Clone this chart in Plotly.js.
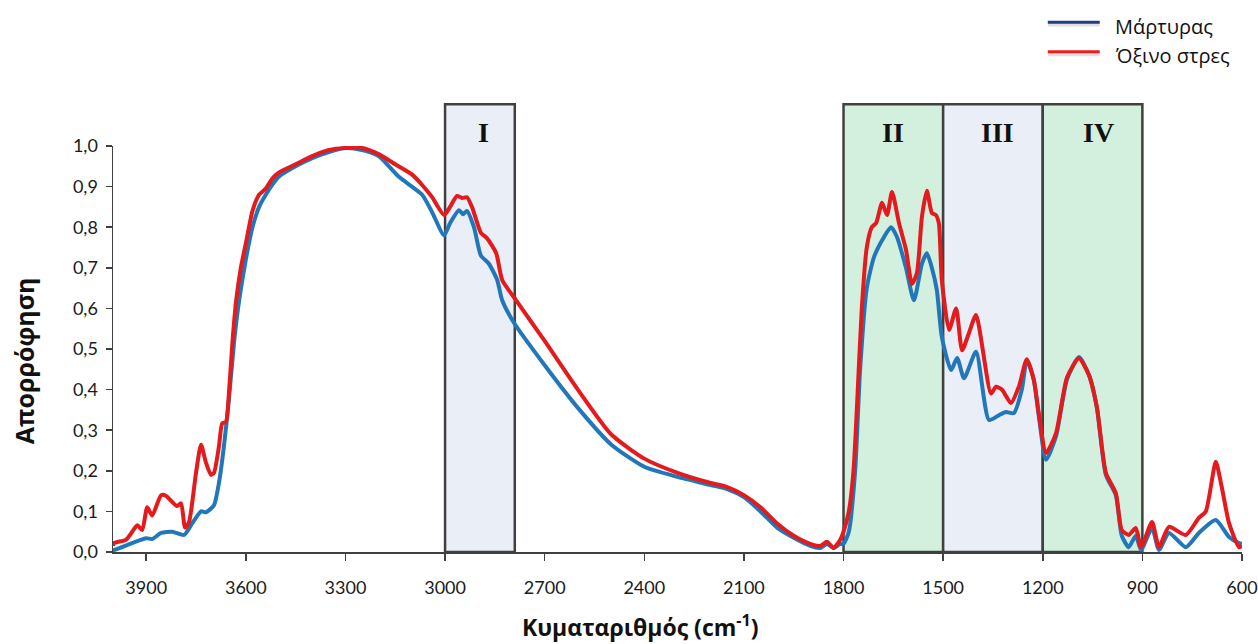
<!DOCTYPE html>
<html>
<head>
<meta charset="utf-8">
<script src="https://cdn.plot.ly/plotly-3.0.1.min.js"></script>
<style>html,body{margin:0;padding:0;background:#fff;}#chart{width:1258px;height:644px;}</style>
</head>
<body>
<div id="chart"></div>
<script>
// ---- Data ----
var seriesNames = ['Μάρτυρας', 'Όξινο στρες'];

var xControl = [4000,3997,3942,3900,3882,3855,3822,3786,3762,3735,3720,3696,3681,3666,3651,3635,3620,3600,3580,3560,3540,3520,3500,3450,3400,3350,3300,3250,3200,3139,3069,3039,3003,2985,2958,2946,2934,2913,2892,2868,2843,2828,2792,2700,2600,2500,2400,2300,2200,2150,2100,2050,2000,1950,1900,1870,1850,1830,1810,1800,1784,1765,1750,1730,1708,1678,1657,1639,1612,1588,1564,1549,1534,1519,1504,1476,1458,1437,1401,1362,1332,1311,1287,1263,1248,1227,1212,1190,1160,1127,1091,1061,1037,1010,980,962,941,920,904,871,850,820,769,730,679,639,609,600];
var yControl = [0.005,0.005,0.022,0.034,0.032,0.047,0.05,0.042,0.07,0.10,0.098,0.115,0.17,0.26,0.375,0.52,0.62,0.72,0.80,0.85,0.88,0.905,0.925,0.95,0.97,0.985,0.995,0.99,0.975,0.924,0.88,0.837,0.78,0.81,0.842,0.832,0.84,0.80,0.73,0.71,0.67,0.62,0.564,0.46,0.355,0.265,0.21,0.185,0.165,0.155,0.135,0.10,0.06,0.035,0.015,0.01,0.02,0.01,0.02,0.02,0.05,0.20,0.45,0.65,0.727,0.776,0.80,0.776,0.70,0.62,0.71,0.736,0.70,0.645,0.53,0.448,0.478,0.428,0.493,0.325,0.337,0.345,0.342,0.40,0.473,0.424,0.335,0.227,0.285,0.425,0.48,0.436,0.355,0.19,0.14,0.04,0.012,0.04,0.005,0.059,0.005,0.047,0.012,0.047,0.079,0.037,0.022,0.02];

var xStress = [4000,3997,3961,3942,3927,3912,3897,3882,3855,3840,3807,3795,3783,3771,3750,3735,3720,3705,3696,3681,3671,3660,3651,3640,3629,3615,3600,3580,3560,3540,3520,3500,3450,3400,3350,3300,3250,3200,3150,3100,3069,3039,3003,2985,2964,2949,2934,2919,2892,2874,2846,2828,2786,2738,2700,2600,2500,2400,2300,2200,2150,2100,2050,2000,1950,1900,1870,1850,1830,1810,1800,1784,1770,1760,1745,1730,1715,1702,1684,1669,1654,1633,1612,1594,1579,1564,1549,1534,1522,1513,1504,1482,1461,1443,1422,1401,1356,1341,1323,1296,1272,1248,1227,1212,1190,1160,1127,1091,1061,1037,1010,980,962,941,920,904,871,850,820,769,730,709,679,661,639,609,600];
var yStress = [0.015,0.022,0.030,0.05,0.066,0.054,0.11,0.09,0.14,0.138,0.113,0.12,0.06,0.074,0.195,0.264,0.22,0.19,0.195,0.26,0.317,0.32,0.39,0.52,0.62,0.70,0.76,0.84,0.88,0.895,0.92,0.935,0.955,0.975,0.99,0.995,0.995,0.98,0.955,0.93,0.904,0.874,0.83,0.85,0.877,0.872,0.874,0.85,0.786,0.773,0.736,0.67,0.62,0.564,0.52,0.40,0.29,0.23,0.195,0.17,0.16,0.14,0.11,0.07,0.04,0.02,0.015,0.025,0.01,0.03,0.05,0.10,0.20,0.35,0.60,0.75,0.80,0.81,0.86,0.83,0.887,0.81,0.745,0.66,0.687,0.825,0.89,0.835,0.83,0.81,0.67,0.547,0.60,0.497,0.54,0.584,0.39,0.407,0.40,0.367,0.407,0.475,0.424,0.342,0.244,0.293,0.43,0.477,0.436,0.357,0.195,0.145,0.054,0.042,0.059,0.012,0.074,0.012,0.062,0.042,0.084,0.10,0.222,0.16,0.071,0.012,0.015];

var xTickVals = [3900,3600,3300,3000,2700,2400,2100,1800,1500,1200,900,600];
var xTickText = ['3900','3600','3300','3000','2700','2400','2100','1800','1500','1200','900','600'];
var yTickVals = [0,0.1,0.2,0.3,0.4,0.5,0.6,0.7,0.8,0.9,1.0];
var yTickText = ['0,0','0,1','0,2','0,3','0,4','0,5','0,6','0,7','0,8','0,9','1,0'];

var regionLabels = ['I','II','III','IV'];
var regionStart = [3000,1800,1500,1200];
var regionEnd = [2790,1500,1200,900];

// ---- Styles ----
var regionFill = ['#e9eef7','#d3f0df','#e9eef7','#d3f0df'];
var labelShift = [4,0,5,6];
var lineBlue = '#2277bb', lineRed = '#e41a1c';
var legendBlue = '#1f3f82', legendRed = '#ee1c1c';
var axisColor = '#404040';
var greekFont = '"Open Sans", "Noto Sans", sans-serif';
var tickFont = {family:'Lato, "Open Sans", sans-serif', size:18, color:'#1a1a1a'};

var traces = [
  {x:xControl, y:yControl, name:seriesNames[0], type:'scatter', mode:'lines',
   line:{color:lineBlue, width:4, shape:'spline', smoothing:0.6}, showlegend:false, hoverinfo:'x+y'},
  {x:xStress, y:yStress, name:seriesNames[1], type:'scatter', mode:'lines',
   line:{color:lineRed, width:4, shape:'spline', smoothing:0.6}, showlegend:false, hoverinfo:'x+y'}
];

var shapes = [], annotations = [];
for (var i = 0; i < regionLabels.length; i++) {
  shapes.push({type:'rect', xref:'x', yref:'paper', x0:regionStart[i], x1:regionEnd[i], y0:0, y1:1.103,
    fillcolor:regionFill[i], line:{color:axisColor, width:2.5}, layer:'below'});
  annotations.push({xref:'x', yref:'paper', x:(regionStart[i]+regionEnd[i])/2, y:1.034, xshift:labelShift[i],
    text:'<b>'+regionLabels[i]+'</b>', showarrow:false, xanchor:'center', yanchor:'middle',
    font:{family:'"Liberation Serif", "Times New Roman", serif', size:28, color:'#111'}});
}

// manual legend
var legendColors = [legendBlue, legendRed];
var legendY = [1.305, 1.232];
for (var j = 0; j < seriesNames.length; j++) {
  shapes.push({type:'line', xref:'paper', yref:'paper', x0:0.828, x1:0.874, y0:legendY[j]-0.006, y1:legendY[j]-0.006,
    line:{color:'rgba(0,0,0,0.12)', width:4}});
  shapes.push({type:'line', xref:'paper', yref:'paper', x0:0.828, x1:0.874, y0:legendY[j], y1:legendY[j],
    line:{color:legendColors[j], width:3}});
  annotations.push({xref:'paper', yref:'paper', x:0.886, y:legendY[j]-0.01, xanchor:'left', yanchor:'middle',
    text:seriesNames[j], showarrow:false, font:{family:greekFont, size:20, color:'#111'}});
}

// axis titles
annotations.push({xref:'paper', yref:'paper', x:0, y:0.47, xshift:-89, textangle:-90, xanchor:'center', yanchor:'middle',
  text:'<b>Απορρόφηση</b>', showarrow:false, font:{family:greekFont, size:25, color:'#111'}});
annotations.push({xref:'paper', yref:'paper', x:0.467, y:0, yshift:-74, xanchor:'center', yanchor:'middle',
  text:'<b>Κυματαριθμός (cm<sup>-1</sup>)</b>', showarrow:false, font:{family:greekFont, size:23, color:'#111'}});

var layout = {
  width:1258, height:644,
  margin:{l:113, r:16, t:146, b:92, pad:0},
  paper_bgcolor:'#ffffff', plot_bgcolor:'#ffffff',
  showlegend:false,
  xaxis:{range:[4000,600], tickvals:xTickVals, ticktext:xTickText, showgrid:false, zeroline:false,
    showline:true, linecolor:axisColor, linewidth:2, ticks:'outside', ticklen:7, tickwidth:1.5, tickcolor:axisColor,
    ticklabelstandoff:11, tickfont:tickFont, fixedrange:true},
  yaxis:{range:[0,1.0], tickvals:yTickVals, ticktext:yTickText, showgrid:false, zeroline:false,
    showline:true, linecolor:axisColor, linewidth:1.5, ticks:'outside', ticklen:6, tickwidth:1.5, tickcolor:axisColor,
    ticklabelstandoff:4, tickfont:tickFont, fixedrange:true},
  shapes:shapes, annotations:annotations
};

Plotly.newPlot('chart', traces, layout, {displayModeBar:false, staticPlot:true});
</script>
</body>
</html>
